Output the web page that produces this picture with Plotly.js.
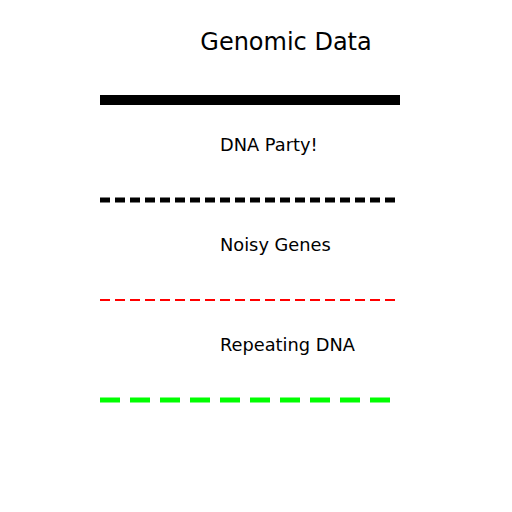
<!DOCTYPE html>
<html>
<head>
<meta charset="utf-8">
<script src="https://cdn.plot.ly/plotly-3.0.1.min.js"></script>
<style>html,body{margin:0;padding:0;background:#fff;}#chart{width:512px;height:512px;}</style>
</head>
<body>
<div id="chart"></div>
<script>
// Data
const chartTitle = "Genomic Data";
const lineNames = ["Genomic Data", "DNA Party!", "Noisy Genes", "Repeating DNA"];
const lineLevels = [4, 3, 2, 1];          // vertical level of each line
const lineStart = [0, 0, 0, 0];           // x start
const lineEnd = [3, 3, 3, 3];             // x end
const labelTexts = ["DNA Party!", "Noisy Genes", "Repeating DNA"];
const labelLevels = [3.56, 2.56, 1.56];
const labelX = [1.2, 1.2, 1.2];

// Styles
const lineStyles = [
  {color: "#000000", width: 10, dash: "solid"},
  {color: "#000000", width: 5, dash: "10px,5px"},
  {color: "#ff0000", width: 2, dash: "10px,5px"},
  {color: "#00ff00", width: 5, dash: "20px,10px"}
];

const traces = lineNames.map((n, i) => ({
  type: "scatter",
  mode: "lines",
  name: n,
  x: [lineStart[i], lineEnd[i]],
  y: [lineLevels[i], lineLevels[i]],
  line: lineStyles[i],
  hoverinfo: "skip",
  showlegend: false
}));

const annotations = labelTexts.map((t, i) => ({
  text: t,
  x: labelX[i],
  y: labelLevels[i],
  xref: "x",
  yref: "y",
  xanchor: "left",
  yanchor: "middle",
  borderpad: 0,
  borderwidth: 0,
  showarrow: false,
  font: {family: "DejaVu Sans", size: 17.8, color: "#000"}
}));

const layout = {
  width: 512,
  height: 512,
  margin: {l: 0, r: 0, t: 0, b: 0, pad: 0},
  paper_bgcolor: "#fff",
  plot_bgcolor: "#fff",
  title: {
    text: chartTitle,
    x: 286 / 512,
    xanchor: "center",
    y: 1 - 42 / 512,
    yanchor: "middle",
    font: {family: "DejaVu Sans", size: 24, color: "#000"}
  },
  xaxis: {range: [-1, 4.12], visible: false, fixedrange: true},
  yaxis: {range: [-0.12, 5], visible: false, fixedrange: true},
  annotations: annotations,
  showlegend: false
};

Plotly.newPlot("chart", traces, layout, {staticPlot: true, displayModeBar: false});
</script>
</body>
</html>
